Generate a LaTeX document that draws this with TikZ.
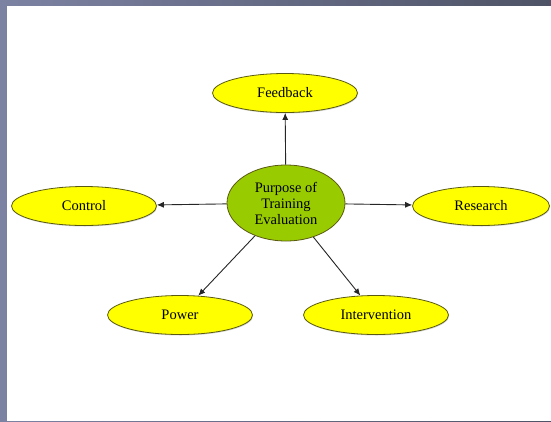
\documentclass[tikz,border=0pt]{standalone}
\usepackage{fontspec}
\setmainfont{Liberation Serif}
\usetikzlibrary{arrows.meta,positioning,shapes.geometric,shadows}
\definecolor{slideL}{HTML}{7C82A2}
\definecolor{slideR}{HTML}{4E5366}
\definecolor{ovalY}{HTML}{FFFF00}
\definecolor{ovalG}{HTML}{99CC00}
\definecolor{ovalE}{HTML}{5A5A12}
\tikzset{
	>={Latex[length=7pt,width=6pt]},
	purpose/.style={
		ellipse,
		fill=ovalG,
		draw=ovalE, thick,
		minimum width=118pt,
		minimum height=76pt,
		inner sep=0pt,
		align=center,
		font=\fontsize{14.5}{16}\selectfont},
	aim/.style={
		ellipse,
		fill=ovalY,
		draw=ovalE, thick,
		minimum width=145pt,
		minimum height=39pt,
		inner sep=0pt,
		drop shadow={shadow xshift=0.6pt, shadow yshift=-1pt, fill=black!40, opacity=0.4},
		font=\fontsize{14.5}{16}\selectfont},
	link/.style={draw=black!85, line width=0.9pt, ->},
}

\begin{document}
\begin{tikzpicture}[x=1pt, y=-1pt]
% slide frame
\useasboundingbox (0,0) rectangle (551,421);
\shade[left color=slideL, right color=slideR] (0,0) rectangle (551,421);
\fill[white] (7,6) rectangle (551,421);

\node[purpose] (purpose) at (286,203) {Purpose of\\Training\\Evaluation};
\node[aim] (feedback) at (285,93) {Feedback};
\node[aim] (control) at (84,206) {Control};
\node[aim, minimum width=137pt] (research) at (481,206) {Research};
\node[aim] (power) at (180,315) {Power};
\node[aim] (intervention) at (376,315) {Intervention};

\draw[link] (purpose) -- (feedback);
\draw[link] (purpose) -- (control);
\draw[link] (purpose) -- (research);
\draw[link] (purpose) -- (power);
\draw[link] (purpose) -- (intervention);
\end{tikzpicture}
\end{document}
